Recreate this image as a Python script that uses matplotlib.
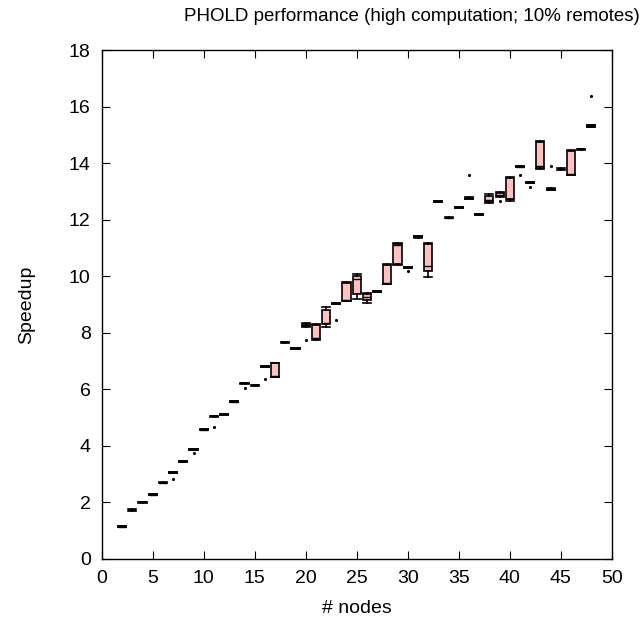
import matplotlib
matplotlib.use("Agg")
import matplotlib.pyplot as plt
from matplotlib import rcParams

# Plot styling (gnuplot-like)
rcParams["font.family"] = ["Liberation Sans", "DejaVu Sans"]
rcParams["font.size"] = 14
rcParams["xtick.direction"] = "in"
rcParams["ytick.direction"] = "in"

nodes = list(range(2, 49))

# per-node box statistics: whisker low, Q1, median, Q3, whisker high
whislo = [1.12, 1.70, 1.99, 2.25, 2.67, 3.04, 3.43, 3.86, 4.55, 5.03,
          5.10, 5.55, 6.20, 6.13, 6.79, 6.42, 7.65, 7.43, 8.22, 7.75,
          8.20, 9.02, 9.12, 9.19, 9.05, 9.44, 9.72, 10.40, 10.30, 11.37,
          9.97, 12.63, 12.05, 12.42, 12.74, 12.17, 12.58, 12.80, 12.65, 13.86,
          13.30, 13.78, 13.05, 13.77, 13.57, 14.48, 15.27]
q1 = [1.13, 1.72, 2.00, 2.26, 2.68, 3.05, 3.44, 3.87, 4.56, 5.04,
      5.11, 5.56, 6.21, 6.14, 6.80, 6.44, 7.66, 7.44, 8.25, 7.77,
      8.32, 9.03, 9.14, 9.36, 9.15, 9.46, 9.74, 10.42, 10.31, 11.40,
      10.18, 12.64, 12.06, 12.43, 12.75, 12.18, 12.62, 12.83, 12.72, 13.87,
      13.31, 13.85, 13.07, 13.78, 13.60, 14.49, 15.29]
med = [1.14, 1.73, 2.01, 2.27, 2.69, 3.06, 3.45, 3.88, 4.57, 5.05,
       5.12, 5.57, 6.22, 6.15, 6.81, 6.46, 7.67, 7.45, 8.29, 7.80,
       8.35, 9.04, 9.16, 9.90, 9.26, 9.47, 9.76, 11.12, 10.32, 11.41,
       10.36, 12.65, 12.07, 12.44, 12.76, 12.19, 12.70, 12.88, 12.75, 13.88,
       13.32, 13.90, 13.08, 13.79, 13.62, 14.50, 15.31]
q3 = [1.15, 1.74, 2.02, 2.28, 2.70, 3.07, 3.46, 3.89, 4.58, 5.06,
      5.13, 5.58, 6.23, 6.16, 6.82, 6.92, 7.68, 7.46, 8.32, 8.28,
      8.82, 9.05, 9.78, 10.00, 9.38, 9.48, 10.40, 11.15, 10.33, 11.42,
      11.14, 12.66, 12.08, 12.45, 12.78, 12.20, 12.85, 12.94, 13.48, 13.90,
      13.34, 14.75, 13.10, 13.80, 14.45, 14.51, 15.34]
whishi = [1.16, 1.75, 2.03, 2.29, 2.71, 3.08, 3.47, 3.90, 4.59, 5.07,
          5.14, 5.60, 6.24, 6.17, 6.83, 6.93, 7.69, 7.47, 8.35, 8.31,
          8.90, 9.06, 9.80, 10.07, 9.42, 9.49, 10.42, 11.17, 10.34, 11.44,
          11.17, 12.67, 12.10, 12.47, 12.79, 12.22, 12.90, 12.97, 13.53, 13.92,
          13.35, 14.80, 13.12, 13.82, 14.48, 14.52, 15.36]

# outliers (node, speedup)
outlier_nodes = [7, 9, 11, 14, 16, 20, 23, 30, 36, 39, 41, 42, 44, 48]
outlier_vals = [2.84, 3.76, 4.66, 6.05, 6.36, 7.74, 8.44, 10.19, 13.60, 12.65,
                13.60, 13.15, 13.92, 16.37]

stats = []
for i, n in enumerate(nodes):
    fl = [v for on, v in zip(outlier_nodes, outlier_vals) if on == n]
    stats.append({"whislo": whislo[i], "q1": q1[i], "med": med[i],
                  "q3": q3[i], "whishi": whishi[i], "fliers": fl})

fig = plt.figure(figsize=(6.44, 6.28), dpi=100)
ax = fig.add_axes([0.158, 0.110, 0.792, 0.810])

ax.bxp(stats, positions=nodes, widths=0.8, patch_artist=True,
       boxprops=dict(facecolor="#ffc0c0", edgecolor="black", linewidth=1.2),
       medianprops=dict(color="black", linewidth=1.0),
       whiskerprops=dict(color="black", linewidth=1.2),
       capprops=dict(color="black", linewidth=1.2),
       capwidths=0.8,
       flierprops=dict(marker=".", markersize=2.5, markerfacecolor="black",
                       markeredgecolor="black", linestyle="none"),
       manage_ticks=False)

ax.set_xlim(0, 50)
ax.set_ylim(0, 18)
ax.set_xticks(range(0, 51, 5))
ax.set_yticks(range(0, 19, 2))
ax.tick_params(top=True, right=True, length=6, width=0.8, pad=8)
for sp in ax.spines.values():
    sp.set_linewidth(1.0)

ax.set_xlabel("# nodes", labelpad=9)
ax.set_ylabel("Speedup", labelpad=24)
fig.text(0.993, 0.974, "PHOLD performance (high computation; 10% remotes)",
         ha="right", va="center", fontsize=13.5)

fig.savefig("out.png", dpi=100)
